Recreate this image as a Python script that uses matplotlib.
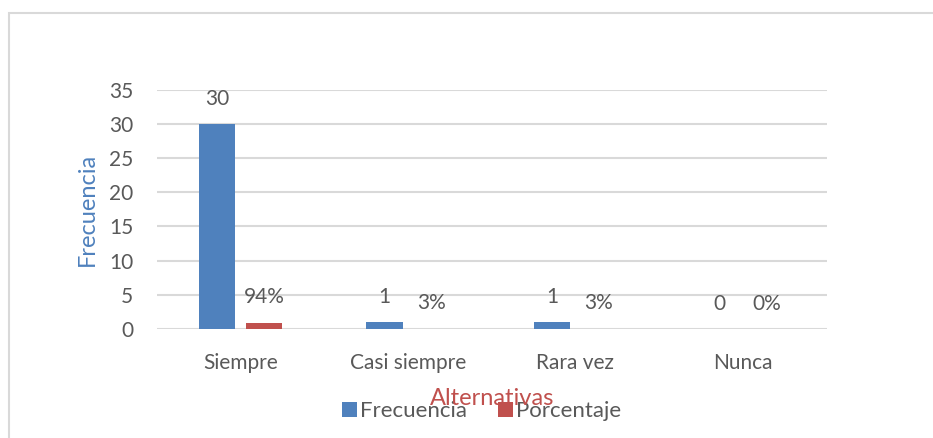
import matplotlib
matplotlib.use("Agg")
import matplotlib.pyplot as plt
from matplotlib.patches import Rectangle
import numpy as np

# ---- Data ----
categories = ["Siempre", "Casi siempre", "Rara vez", "Nunca"]
frecuencia = [30, 1, 1, 0]
porcentaje = [0.94, 0.03, 0.03, 0.0]
frec_labels = ["30", "1", "1", "0"]
porc_labels = ["94%", "3%", "3%", "0%"]

BLUE = "#4F81BD"
RED = "#C0504D"
TEXT = "#595959"
GRID = "#D9D9D9"

plt.rcParams["font.family"] = ["Lato", "DejaVu Sans"]

fig = plt.figure(figsize=(9.33, 4.38), dpi=100)
ax = fig.add_axes([0.168, 0.249, 0.718, 0.546])

x = np.arange(len(categories))
w = 0.22
gap = 0.03
b1 = ax.bar(x - w / 2 - gap, frecuencia, w, color=BLUE, label="Frecuencia", zorder=3)
b2 = ax.bar(x + w / 2 + gap, porcentaje, w, color=RED, label="Porcentaje", zorder=3)

for rect, txt in zip(b1, frec_labels):
    ax.annotate(txt, (rect.get_x() + rect.get_width() / 2, rect.get_height()),
                xytext=(0, 11), textcoords="offset points", ha="center", va="bottom",
                fontsize=15, color=TEXT)
for rect, txt in zip(b2, porc_labels):
    ax.annotate(txt, (rect.get_x() + rect.get_width() / 2, rect.get_height()),
                xytext=(0, 11), textcoords="offset points", ha="center", va="bottom",
                fontsize=15, color=TEXT)

ax.set_xlim(-0.5, len(categories) - 0.5)
ax.set_ylim(0, 35)
ax.set_yticks(range(0, 36, 5))
ax.set_xticks(x)
ax.set_xticklabels(categories)
ax.yaxis.grid(True, color=GRID, linewidth=1.5, zorder=0)
for s in ax.spines.values():
    s.set_visible(False)
ax.tick_params(axis="both", length=0, labelsize=15, labelcolor=TEXT)
ax.tick_params(axis="x", pad=17)
ax.tick_params(axis="y", pad=17)

ax.set_ylabel("Frecuencia", color=BLUE, fontsize=17, labelpad=8)
fig.text(0.527, 0.09, "Alternativas", color=RED, fontsize=17, ha="center", va="center")

ax.legend(loc="center", bbox_to_anchor=(0.485, -0.345), ncol=2, frameon=False,
          fontsize=16, labelcolor=TEXT, handlelength=0.65, handleheight=0.65,
          handletextpad=0.15, columnspacing=1.4)

# chart border
fig.add_artist(Rectangle((9 / 933, -0.1), 1.0, (438 - 13) / 438 + 0.1,
                         transform=fig.transFigure, fill=False,
                         edgecolor=GRID, linewidth=1.5))

fig.savefig("out.png", dpi=100, facecolor="white")
